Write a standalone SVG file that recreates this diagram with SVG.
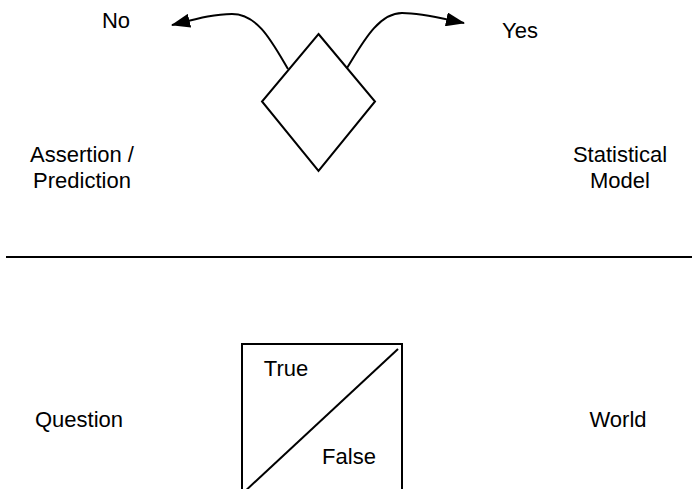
<svg xmlns="http://www.w3.org/2000/svg" width="692" height="489" viewBox="0 0 692 489">
<style>
text{font-family:"Liberation Sans",Arial,sans-serif;font-size:22px;fill:#000;text-anchor:middle}
.s{fill:#fff;stroke:#000;stroke-width:2}
.c{fill:none;stroke:#000;stroke-width:2}
</style>
<defs>
<marker id="ah" markerWidth="20" markerHeight="14" refX="18" refY="7" orient="auto" markerUnits="userSpaceOnUse">
<path d="M0,0 L19,7 L0,14 Z" fill="#000"/>
</marker>
</defs>
<rect width="692" height="489" fill="#fff"/>
<g id="decision">
<polygon class="s" points="318.5,34 375,101.5 318.5,171 262,101.5"/>
</g>
<g id="truth">
<rect class="s" x="242" y="344" width="160" height="160"/>
<line class="c" x1="398" y1="349" x2="242" y2="494"/>
<text x="286" y="376">True</text>
<text x="349" y="464">False</text>
</g>
<g id="divider">
<line class="c" x1="6" y1="257" x2="692" y2="257"/>
</g>
<g id="labels">
<text x="116" y="28">No</text>
<text x="520" y="38">Yes</text>
<text x="82" y="162">Assertion /</text>
<text x="82" y="188">Prediction</text>
<text x="620" y="162">Statistical</text>
<text x="620" y="188">Model</text>
<text x="79" y="427">Question</text>
<text x="618" y="427">World</text>
</g>
<g id="connectors">
<path class="c" marker-end="url(#ah)" d="M288,69 C272,42 258,14 232,14 C215,14 200,18 172,25"/>
<path class="c" marker-end="url(#ah)" d="M347,68 C362,44 378,13 402,13 C422,13 440,18 464,23"/>
</g>
</svg>
